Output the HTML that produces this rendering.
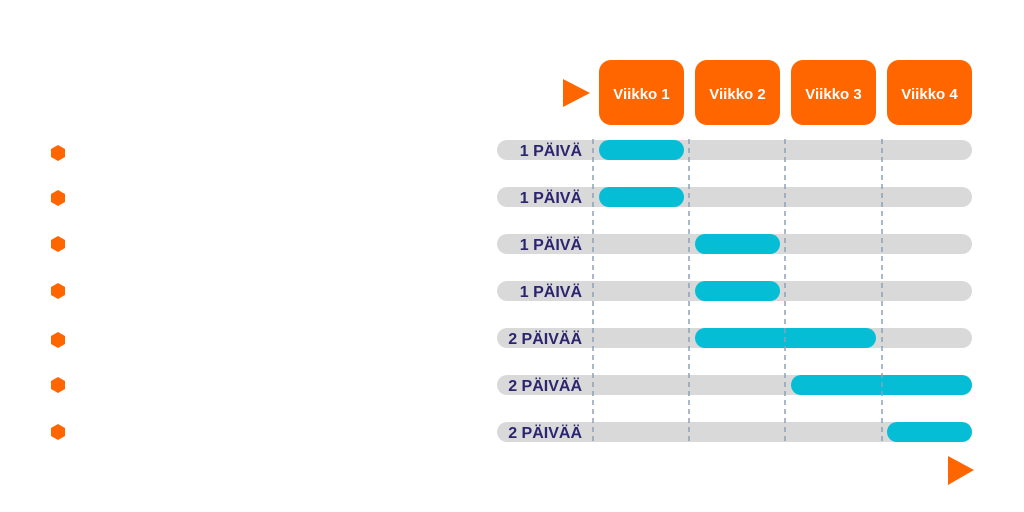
<!DOCTYPE html>
<html><head><meta charset="utf-8"><style>
html,body{margin:0;padding:0;background:#fff;}
svg{display:block}
</style></head><body>
<svg width="1024" height="512" viewBox="0 0 1024 512" xmlns="http://www.w3.org/2000/svg">
<g fill="#ff6600">
<rect x="599" y="60" width="85" height="65" rx="12"/>
<rect x="695" y="60" width="85" height="65" rx="12"/>
<rect x="791" y="60" width="85" height="65" rx="12"/>
<rect x="887" y="60" width="85" height="65" rx="12"/>
<polygon points="563,79 590,93 563,107"/>
<polygon points="948,456 974,470 948,485"/>
</g>
<g fill="#fff" font-family="Liberation Sans, sans-serif" font-weight="bold" font-size="15" text-anchor="middle">
<text x="641.5" y="99">Viikko 1</text>
<text x="737.5" y="99">Viikko 2</text>
<text x="833.5" y="99">Viikko 3</text>
<text x="929.5" y="99">Viikko 4</text>
</g>
<g fill="#d9d9d9">
<rect x="497" y="140" width="475" height="20" rx="10"/>
<rect x="497" y="187" width="475" height="20" rx="10"/>
<rect x="497" y="234" width="475" height="20" rx="10"/>
<rect x="497" y="281" width="475" height="20" rx="10"/>
<rect x="497" y="328" width="475" height="20" rx="10"/>
<rect x="497" y="375" width="475" height="20" rx="10"/>
<rect x="497" y="422" width="475" height="20" rx="10"/>
</g>
<g fill="#05bed6">
<rect x="599" y="140" width="85" height="20" rx="10"/>
<rect x="599" y="187" width="85" height="20" rx="10"/>
<rect x="695" y="234" width="85" height="20" rx="10"/>
<rect x="695" y="281" width="85" height="20" rx="10"/>
<rect x="695" y="328" width="181" height="20" rx="10"/>
<rect x="791" y="375" width="181" height="20" rx="10"/>
<rect x="887" y="422" width="85" height="20" rx="10"/>
</g>
<g stroke="#8aa2b8" stroke-width="1.5" stroke-dasharray="5,4">
<line x1="593" y1="139" x2="593" y2="443"/>
<line x1="689" y1="139" x2="689" y2="443"/>
<line x1="785" y1="139" x2="785" y2="443"/>
<line x1="882" y1="139" x2="882" y2="443"/>
</g>
<g fill="#2b2570" font-family="Liberation Sans, sans-serif" font-weight="bold" font-size="16" text-anchor="end">
<text x="582" y="156">1 PÄIVÄ</text>
<text x="582" y="203">1 PÄIVÄ</text>
<text x="582" y="250">1 PÄIVÄ</text>
<text x="582" y="297">1 PÄIVÄ</text>
<text x="582" y="344">2 PÄIVÄÄ</text>
<text x="582" y="391">2 PÄIVÄÄ</text>
<text x="582" y="438">2 PÄIVÄÄ</text>
</g>
<g fill="#ff6600">
<polygon points="58,145 65,149 65,157 58,161 51,157 51,149"/>
<polygon points="58,190 65,194 65,202 58,206 51,202 51,194"/>
<polygon points="58,236 65,240 65,248 58,252 51,248 51,240"/>
<polygon points="58,283 65,287 65,295 58,299 51,295 51,287"/>
<polygon points="58,332 65,336 65,344 58,348 51,344 51,336"/>
<polygon points="58,377 65,381 65,389 58,393 51,389 51,381"/>
<polygon points="58,424 65,428 65,436 58,440 51,436 51,428"/>
</g>
</svg>
</body></html>
